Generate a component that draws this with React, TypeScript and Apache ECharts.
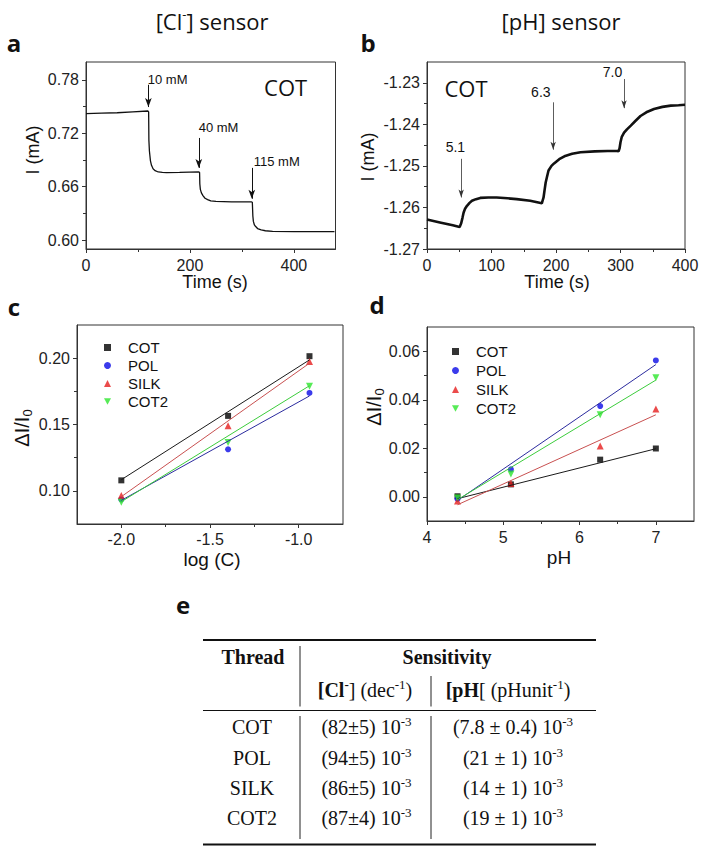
import React, { useEffect, useRef } from 'react';
import * as echarts from 'echarts';

// ---------- Panel a : [Cl-] sensor, COT ----------
const clTime = [0, 30, 60, 90, 119, 120.5, 121, 122, 124, 126, 129, 133, 139, 147, 155, 180, 217, 218.5, 219, 220, 222, 225, 229, 234, 240, 250, 280, 318, 320, 321, 322, 324, 326, 330, 337, 345, 359, 400, 440, 478];
const clCurrent = [0.742, 0.7425, 0.743, 0.744, 0.745, 0.744, 0.712, 0.700, 0.689, 0.684, 0.680, 0.678, 0.6765, 0.676, 0.6758, 0.676, 0.6765, 0.676, 0.663, 0.657, 0.653, 0.650, 0.647, 0.6455, 0.644, 0.6435, 0.643, 0.643, 0.6425, 0.627, 0.621, 0.617, 0.6155, 0.613, 0.6115, 0.6105, 0.6098, 0.6095, 0.6094, 0.6094];
const clArrowT = [120, 217, 319];
const clArrowTop = [0.7744, 0.7147, 0.6811];
const clArrowBottom = [0.7494, 0.6811, 0.6464];
const clLabels = ['10 mM', '40 mM', '115 mM'];
const clLabelT = [157, 255, 367];
const clLabelI = [0.780, 0.7259, 0.6885];

// ---------- Panel b : [pH] sensor, COT ----------
const phTime = [0, 20, 40, 50.6, 53, 55, 56.8, 59, 62, 66, 69.7, 76, 82.6, 95, 108, 125, 139, 160, 178, 180.7, 182.5, 184, 185.8, 188.4, 193, 197, 205, 213, 225, 238, 260, 280, 295, 297, 298.5, 300, 302, 305.5, 310, 316, 323, 331, 340, 352, 365, 378, 390, 400];
const phCurrent = [-1.2629, -1.2636, -1.2643, -1.2647, -1.2638, -1.2625, -1.2612, -1.2603, -1.2596, -1.2589, -1.2584, -1.2580, -1.2577, -1.2576, -1.2576, -1.2578, -1.2580, -1.2584, -1.2590, -1.2576, -1.2556, -1.2540, -1.2528, -1.2511, -1.2500, -1.2494, -1.2484, -1.2477, -1.2471, -1.2467, -1.2465, -1.2464, -1.2464, -1.2465, -1.2458, -1.2443, -1.2430, -1.2420, -1.2412, -1.2403, -1.2392, -1.2380, -1.2371, -1.2363, -1.2358, -1.2355, -1.2354, -1.2353];
const phArrowT = [53, 195.6, 305.5];
const phArrowTop = [-1.2483, -1.2347, -1.2291];
const phArrowBottom = [-1.2576, -1.2461, -1.2361];
const phLabels = ['5.1', '6.3', '7.0'];
const phLabelT = [44, 176.5, 287.5];
const phLabelI = [-1.2455, -1.2323, -1.2275];

// ---------- Panels c, d : calibration ----------
const threads = ['COT', 'POL', 'SILK', 'COT2'];
const threadColors = ['#000000', '#0a0ae6', '#e61e1e', '#2de62d'];
const fitColors = ['#1a1a1a', '#2b2b9e', '#c85050', '#3ccc3c'];
const threadSymbols = ['rect', 'circle', 'triangle', 'path://M0,0L10,0L5,9Z'];
const threadSymbolSizes = [6, 6, 7, 7];

const logC = [-2.0, -1.398, -0.939];
const clRespCOT = [0.1079, 0.1565, 0.2015];
const clRespPOL = [0.0935, 0.1313, 0.1738];
const clRespSILK = [0.0964, 0.149, 0.1975];
const clRespCOT2 = [0.0914, 0.1364, 0.1789];
const clFitX = [-2.0, -0.939];
const clFitCOT = [0.1084, 0.1987];
const clFitPOL = [0.0928, 0.1715];
const clFitSILK = [0.0956, 0.1962];
const clFitCOT2 = [0.0918, 0.1792];

const pHValues = [4.4, 5.1, 6.27, 7.0];
const phRespCOT = [0.0002, 0.0051, 0.0153, 0.0199];
const phRespPOL = [-0.0009, 0.0113, 0.0374, 0.0562];
const phRespSILK = [-0.0018, 0.0055, 0.0209, 0.0362];
const phRespCOT2 = [-0.0005, 0.0094, 0.0338, 0.0491];
const phFitX = [4.4, 7.0];
const phFitCOT = [-0.0008, 0.0198];
const phFitPOL = [-0.0015, 0.0545];
const phFitSILK = [-0.0033, 0.0338];
const phFitCOT2 = [-0.0012, 0.0481];

// ---------- Panel e : table ----------
const clSens = ['(82±5)', '(94±5)', '(86±5)', '(87±4)'];
const phSens = ['(7.8 ± 0.4)', '(21 ± 1)', '(14 ± 1)', '(19 ± 1)'];

const SANS = 'Liberation Sans, Arial, sans-serif';
const TITLE = 'Open Sans, sans-serif';
const SERIF = 'Liberation Serif, Times New Roman, serif';

function axisPair(kind: 'x' | 'y', grid: number, min: number, max: number, majors: number[], minors: number[], digits: number, margin: number) {
  const base: any = {
    type: 'value', gridIndex: grid, min, max,
    position: kind === 'x' ? 'bottom' : 'left',
    splitLine: { show: false },
  };
  const main = {
    ...base,
    axisLine: { show: true, onZero: false, lineStyle: { color: '#333', width: 1 } },
    axisTick: { show: true, inside: false, length: 4, customValues: majors, lineStyle: { color: '#333', width: 1 } },
    axisLabel: { show: true, customValues: majors, formatter: (v: number) => v.toFixed(digits), margin, color: '#222', fontSize: 16, fontFamily: SANS },
  };
  const minor = {
    ...base,
    axisLine: { show: false, onZero: false },
    axisTick: { show: true, inside: false, length: 3, customValues: minors, lineStyle: { color: '#333', width: 1 } },
    axisLabel: { show: false },
  };
  return [main, minor];
}

function zip(xs: number[], ys: number[]) {
  return xs.map((x, i) => [x, ys[i]]);
}

function arrowLines(ts: number[], tops: number[], bottoms: number[]) {
  return ts.map((t, i) => [{ coord: [t, tops[i]] }, { coord: [t, bottoms[i]] }]);
}

function textPoints(ts: number[], vs: number[], labels: string[]) {
  return ts.map((t, i) => ({ coord: [t, vs[i]], name: labels[i], value: labels[i] }));
}

export default function App() {
  const ref = useRef<HTMLDivElement>(null);
  useEffect(() => {
    if (!ref.current) return;
    const chart = echarts.init(ref.current, undefined, { renderer: 'svg' });

    const grids = [
      { left: 86, top: 62, width: 249.5, height: 187 },
      { left: 427, top: 62, width: 258, height: 187 },
      { left: 77, top: 325, width: 266, height: 199 },
      { left: 427, top: 327, width: 267, height: 194 },
    ].map((g) => ({ ...g, show: true, borderColor: '#333', borderWidth: 1, backgroundColor: 'transparent' }));

    const xAxis = [
      ...axisPair('x', 0, 0, 480, [0, 200, 400], [100, 300], 0, 8),
      ...axisPair('x', 1, 0, 400, [0, 100, 200, 300, 400], [50, 150, 250, 350], 0, 8),
      ...axisPair('x', 2, -2.25, -0.75, [-2.0, -1.5, -1.0], [-1.75, -1.25], 1, 7),
      ...axisPair('x', 3, 4, 7.5, [4, 5, 6, 7], [4.5, 5.5, 6.5], 0, 8),
    ];
    const yAxis = [
      ...axisPair('y', 0, 0.59, 0.80, [0.60, 0.66, 0.72, 0.78], [0.63, 0.69, 0.75], 2, 7),
      ...axisPair('y', 1, -1.27, -1.225, [-1.27, -1.26, -1.25, -1.24, -1.23], [-1.265, -1.255, -1.245, -1.235], 2, 7),
      ...axisPair('y', 2, 0.075, 0.225, [0.10, 0.15, 0.20], [0.125, 0.175], 2, 7),
      ...axisPair('y', 3, -0.01, 0.07, [0.0, 0.02, 0.04, 0.06], [0.01, 0.03, 0.05], 2, 7),
    ];

    const annotLabel = (size: number, family: string) => ({
      show: true, position: 'inside', formatter: (p: any) => p.name, color: '#111', fontSize: size, fontFamily: family,
    });

    const clResp = [clRespCOT, clRespPOL, clRespSILK, clRespCOT2];
    const clFits = [clFitCOT, clFitPOL, clFitSILK, clFitCOT2];
    const phResp = [phRespCOT, phRespPOL, phRespSILK, phRespCOT2];
    const phFits = [phFitCOT, phFitPOL, phFitSILK, phFitCOT2];

    const series: any[] = [
      {
        type: 'line', name: 'Cl trace', xAxisIndex: 0, yAxisIndex: 0, data: zip(clTime, clCurrent),
        showSymbol: false, lineStyle: { color: '#111', width: 1.3 }, silent: true,
        markLine: {
          silent: true, symbol: ['none', 'arrow'], symbolSize: [5, 9], label: { show: false },
          lineStyle: { type: 'solid', color: '#111', width: 1 }, emphasis: { disabled: true },
          data: arrowLines(clArrowT, clArrowTop, clArrowBottom),
        },
        markPoint: {
          silent: true, symbol: 'rect', symbolSize: 1, itemStyle: { color: 'transparent' },
          label: annotLabel(13, SANS),
          data: [
            ...textPoints(clLabelT, clLabelI, clLabels),
            { coord: [384, 0.772], name: 'COT', value: 'COT', label: { fontSize: 22, fontFamily: TITLE } },
          ],
        },
      },
      {
        type: 'line', name: 'pH trace', xAxisIndex: 2, yAxisIndex: 2, data: zip(phTime, phCurrent),
        showSymbol: false, lineStyle: { color: '#111', width: 2.6 }, silent: true,
        markLine: {
          silent: true, symbol: ['none', 'arrow'], symbolSize: [4, 8], label: { show: false },
          lineStyle: { type: 'solid', color: '#333', width: 0.8 }, emphasis: { disabled: true },
          data: arrowLines(phArrowT, phArrowTop, phArrowBottom),
        },
        markPoint: {
          silent: true, symbol: 'rect', symbolSize: 1, itemStyle: { color: 'transparent' },
          label: annotLabel(14, SANS),
          data: [
            ...textPoints(phLabelT, phLabelI, phLabels),
            { coord: [60.4, -1.2313], name: 'COT', value: 'COT', label: { fontSize: 22, fontFamily: TITLE } },
          ],
        },
      },
    ];

    threads.forEach((name, i) => {
      series.push({
        type: 'line', name: name + ' fit (Cl)', xAxisIndex: 4, yAxisIndex: 4, data: zip(clFitX, clFits[i]),
        showSymbol: false, silent: true, lineStyle: { color: fitColors[i], width: 1 },
      });
      series.push({
        type: 'line', name: name + ' fit (pH)', xAxisIndex: 6, yAxisIndex: 6, data: zip(phFitX, phFits[i]),
        showSymbol: false, silent: true, lineStyle: { color: fitColors[i], width: 1 },
      });
    });
    threads.forEach((name, i) => {
      series.push({
        type: 'scatter', name, xAxisIndex: 4, yAxisIndex: 4, data: zip(logC, clResp[i]),
        symbol: threadSymbols[i], symbolSize: threadSymbolSizes[i], itemStyle: { color: threadColors[i] },
      });
      series.push({
        type: 'scatter', name, xAxisIndex: 6, yAxisIndex: 6, data: zip(pHValues, phResp[i]),
        symbol: threadSymbols[i], symbolSize: threadSymbolSizes[i], itemStyle: { color: threadColors[i] },
      });
    });

    const legendBase = {
      orient: 'vertical', padding: 0, itemWidth: 7, itemHeight: 7, selectedMode: false,
      textStyle: { fontSize: 15, fontFamily: SANS, color: '#111', padding: [0, 0, 0, 12] },
      data: threads,
    };

    const txt = (x: number, y: number, text: string, style: any, extra: any = {}) => ({
      type: 'text', x, y, silent: true, ...extra,
      style: { text, align: 'center', verticalAlign: 'middle', fill: '#111', ...style },
    });

    const TF = 20;
    const tableRich = {
      n: { fontSize: TF, fontFamily: SERIF, lineHeight: 24, fill: '#111' },
      b: { fontSize: TF, fontFamily: SERIF, fontWeight: 'bold', lineHeight: 24, fill: '#111' },
      s: { fontSize: 13, fontFamily: SERIF, verticalAlign: 'top', lineHeight: 12, fill: '#111' },
      sb: { fontSize: 13, fontFamily: SERIF, fontWeight: 'bold', verticalAlign: 'top', lineHeight: 12, fill: '#111' },
    };
    const rowY = [726.7, 758, 788, 817.5];

    const hline = (x1: number, x2: number, y: number, w: number) => ({
      type: 'line', silent: true, shape: { x1, y1: y, x2, y2: y }, style: { stroke: '#111', lineWidth: w },
    });
    const vline = (x: number, y1: number, y2: number) => ({
      type: 'line', silent: true, shape: { x1: x, y1, x2: x, y2 }, style: { stroke: '#222', lineWidth: 1 },
    });

    const axRich = {
      n: { fontSize: 20, fontFamily: SANS, lineHeight: 24, fill: '#111' },
      s: { fontSize: 13, fontFamily: SANS, verticalAlign: 'bottom', lineHeight: 13, fill: '#111' },
    };

    const graphic: any[] = [
      // panel letters
      txt(14, 42, 'a', { fontSize: 24, fontWeight: 'bold', fontFamily: TITLE }),
      txt(368, 42, 'b', { fontSize: 24, fontWeight: 'bold', fontFamily: TITLE }),
      txt(14, 306, 'c', { fontSize: 24, fontWeight: 'bold', fontFamily: TITLE }),
      txt(377, 304, 'd', { fontSize: 24, fontWeight: 'bold', fontFamily: TITLE }),
      txt(183, 604, 'e', { fontSize: 24, fontWeight: 'bold', fontFamily: TITLE }),
      // titles
      txt(212, 21, '{n|[Cl}{s|-}{n|] sensor}', {
        rich: { n: { fontSize: 22, fontFamily: TITLE, lineHeight: 28, fill: '#111' }, s: { fontSize: 13, fontFamily: TITLE, verticalAlign: 'top', lineHeight: 13, fill: '#111' } },
      }),
      txt(561, 21, '[pH] sensor', { fontSize: 22, fontFamily: TITLE }),
      // axis names
      txt(215, 282, 'Time (s)', { fontSize: 18, fontFamily: SANS }),
      txt(557, 282, 'Time (s)', { fontSize: 18, fontFamily: SANS }),
      txt(33, 150, 'I (mA)', { fontSize: 18, fontFamily: SANS }, { rotation: Math.PI / 2 }),
      txt(368, 157, 'I (mA)', { fontSize: 18, fontFamily: SANS }, { rotation: Math.PI / 2 }),
      txt(212, 559, 'log (C)', { fontSize: 19, fontFamily: SANS }),
      txt(559, 557, 'pH', { fontSize: 19, fontFamily: SANS }),
      txt(22, 428, '{n|ΔI/I}{s|0}', { rich: axRich }, { rotation: Math.PI / 2 }),
      txt(374, 407, '{n|ΔI/I}{s|0}', { rich: axRich }, { rotation: Math.PI / 2 }),
      // table rules
      hline(203, 596, 640, 2),
      hline(203, 596, 710.5, 1.2),
      hline(203, 596, 844.5, 2),
      vline(300, 646, 706.5),
      vline(300, 716, 839),
      vline(431, 676, 706.5),
      vline(431, 716, 839),
      // table header
      txt(253, 657, '{b|Thread}', { rich: tableRich }),
      txt(447, 657, '{b|Sensitivity}', { rich: tableRich }),
      txt(365, 690, '{b|[Cl}{sb|-}{n|] (dec}{s|-1}{n|)}', { rich: tableRich }),
      txt(508, 690, '{b|[pH}{n|[ (pHunit}{s|-1}{n|)}', { rich: tableRich }),
    ];
    threads.forEach((name, i) => {
      graphic.push(txt(252, rowY[i], `{n|${name}}`, { rich: tableRich }));
      graphic.push(txt(366.5, rowY[i], `{n|${clSens[i]} 10}{s|-3}`, { rich: tableRich }));
      graphic.push(txt(513, rowY[i], `{n|${phSens[i]} 10}{s|-3}`, { rich: tableRich }));
    });

    chart.setOption({
      animation: false,
      backgroundColor: '#ffffff',
      grid: grids,
      xAxis,
      yAxis,
      legend: [
        { ...legendBase, left: 104, top: 340, itemGap: 3 },
        { ...legendBase, left: 452, top: 344, itemGap: 4 },
      ],
      series,
      graphic,
    });
    return () => chart.dispose();
  }, []);
  return <div ref={ref} style={{ position: 'absolute', left: 0, top: 0, width: 708, height: 852 }} />;
}
